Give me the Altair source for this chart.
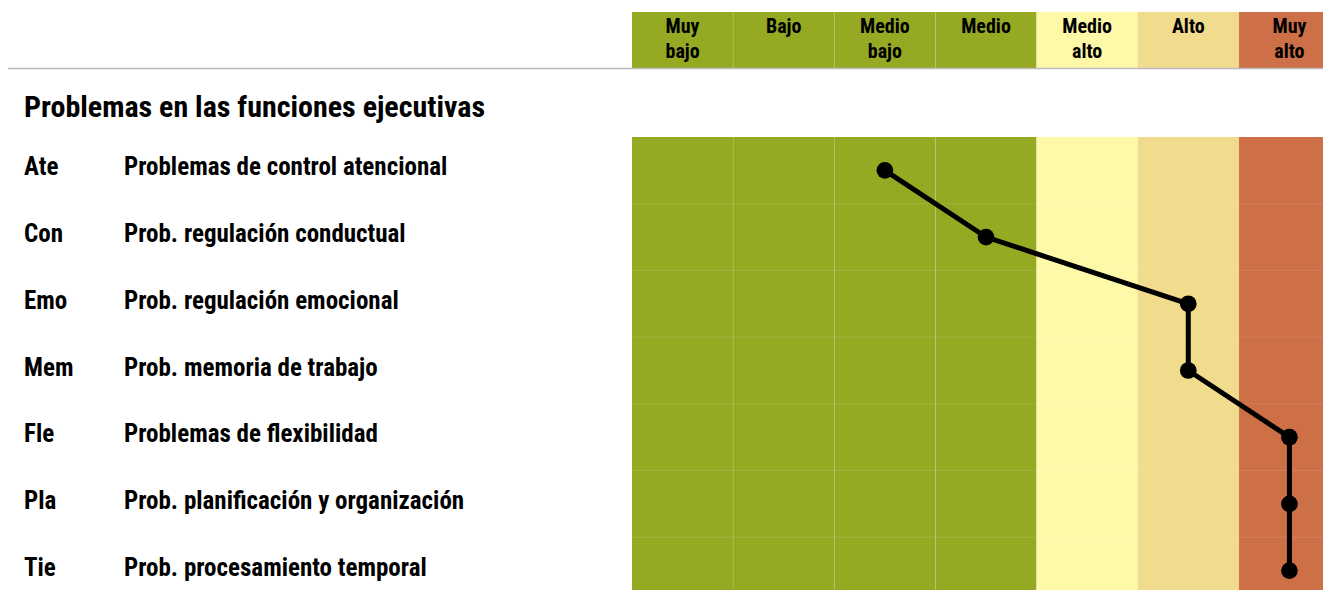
import altair as alt
import pandas as pd

levels = ["Muy bajo", "Bajo", "Medio bajo", "Medio", "Medio alto", "Alto", "Muy alto"]
level_colors = ["#95A923", "#95A923", "#95A923", "#95A923", "#FEF9A7", "#F1DB8C", "#CD6F47"]
codes = ["Ate", "Con", "Emo", "Mem", "Fle", "Pla", "Tie"]
names = [
    "Problemas de control atencional",
    "Prob. regulación conductual",
    "Prob. regulación emocional",
    "Prob. memoria de trabajo",
    "Problemas de flexibilidad",
    "Prob. planificación y organización",
    "Prob. procesamiento temporal",
]
results = ["Medio bajo", "Medio", "Alto", "Alto", "Muy alto", "Muy alto", "Muy alto"]
title_text = "Problemas en las funciones ejecutivas"

FONT = "Roboto Condensed, Liberation Sans Narrow, DejaVu Sans Condensed, Roboto, sans-serif"
W, H = 1315, 582

cols = pd.DataFrame({
    "level": levels,
    "label": [l.replace(" ", "\n") for l in levels],
    "idx": list(range(len(levels))),
    "lo": [i - 0.5 for i in range(len(levels))],
    "hi": [i + 0.5 for i in range(len(levels))],
    "color": level_colors,
})
rows = pd.DataFrame({
    "code": codes,
    "name": names,
    "row": list(range(len(codes))),
    "score": [levels.index(r) for r in results],
})
vbounds = pd.DataFrame({"b": [i + 0.5 for i in range(len(levels) - 1)]})
hbounds = pd.DataFrame({"b": [i + 0.5 for i in range(len(codes) - 1)], "x0": -0.5, "x1": len(levels) - 0.5})

xs = alt.Scale(domain=[-0.5, len(levels) - 0.5], range=[624, 1332], nice=False, zero=False)
ys = alt.Scale(domain=[-0.5, len(codes) - 0.5], range=[129, 596], nice=False, zero=False)

body_bg = alt.Chart(cols).mark_rect().encode(
    x=alt.X("lo:Q", scale=xs, axis=None), x2="hi:Q",
    y=alt.value(129), y2=alt.value(H),
    color=alt.Color("color:N", scale=None),
)
head_bg = alt.Chart(cols).mark_rect().encode(
    x=alt.X("lo:Q", scale=xs, axis=None), x2="hi:Q",
    y=alt.value(4), y2=alt.value(60),
    color=alt.Color("color:N", scale=None),
)
vgrid_body = alt.Chart(vbounds).mark_rule(color="white", opacity=0.12, strokeWidth=1).encode(
    x=alt.X("b:Q", scale=xs, axis=None), y=alt.value(129), y2=alt.value(H)
)
vgrid_head = alt.Chart(vbounds).mark_rule(color="white", opacity=0.12, strokeWidth=1).encode(
    x=alt.X("b:Q", scale=xs, axis=None), y=alt.value(4), y2=alt.value(60)
)
hgrid = alt.Chart(hbounds).mark_rule(color="white", opacity=0.12, strokeWidth=1).encode(
    y=alt.Y("b:Q", scale=ys, axis=None), x=alt.X("x0:Q", scale=xs, axis=None), x2="x1:Q"
)
head_text = alt.Chart(cols).mark_text(
    font=FONT, fontSize=20, fontWeight="bold", baseline="top", align="center",
    lineBreak="\n", lineHeight=25, color="black",
).encode(
    x=alt.X("idx:Q", scale=xs, axis=None), y=alt.value(9), text="label:N"
)
sep = alt.Chart(pd.DataFrame({"a": [0]})).mark_rule(color="#BBBBBB", strokeWidth=1.5).encode(
    x=alt.value(-1), x2=alt.value(W), y=alt.value(60.5)
)
title = alt.Chart(pd.DataFrame({"t": [title_text]})).mark_text(
    font=FONT, fontSize=30, fontWeight="bold", align="left", baseline="middle", color="black"
).encode(x=alt.value(16), y=alt.value(100), text="t:N")
code_text = alt.Chart(rows).mark_text(
    font=FONT, fontSize=25, fontWeight="bold", align="left", baseline="middle", color="black", dy=-3
).encode(x=alt.value(16), y=alt.Y("row:Q", scale=ys, axis=None), text="code:N")
name_text = alt.Chart(rows).mark_text(
    font=FONT, fontSize=25, fontWeight="bold", align="left", baseline="middle", color="black", dy=-3
).encode(x=alt.value(116), y=alt.Y("row:Q", scale=ys, axis=None), text="name:N")
line = alt.Chart(rows).mark_line(color="black", strokeWidth=5).encode(
    x=alt.X("score:Q", scale=xs, axis=None), y=alt.Y("row:Q", scale=ys, axis=None), order="row:Q"
)
pts = alt.Chart(rows).mark_circle(color="black", size=280, opacity=1).encode(
    x=alt.X("score:Q", scale=xs, axis=None), y=alt.Y("row:Q", scale=ys, axis=None)
)

chart = alt.layer(
    body_bg, head_bg, vgrid_body, vgrid_head, hgrid, head_text, sep, title, code_text, name_text, line, pts
).properties(
    width=W, height=H, autosize=alt.AutoSizeParams(type="none"), padding=0
).configure_view(stroke=None)

chart.save("out.html", embed_options={"renderer": "svg", "actions": False})
